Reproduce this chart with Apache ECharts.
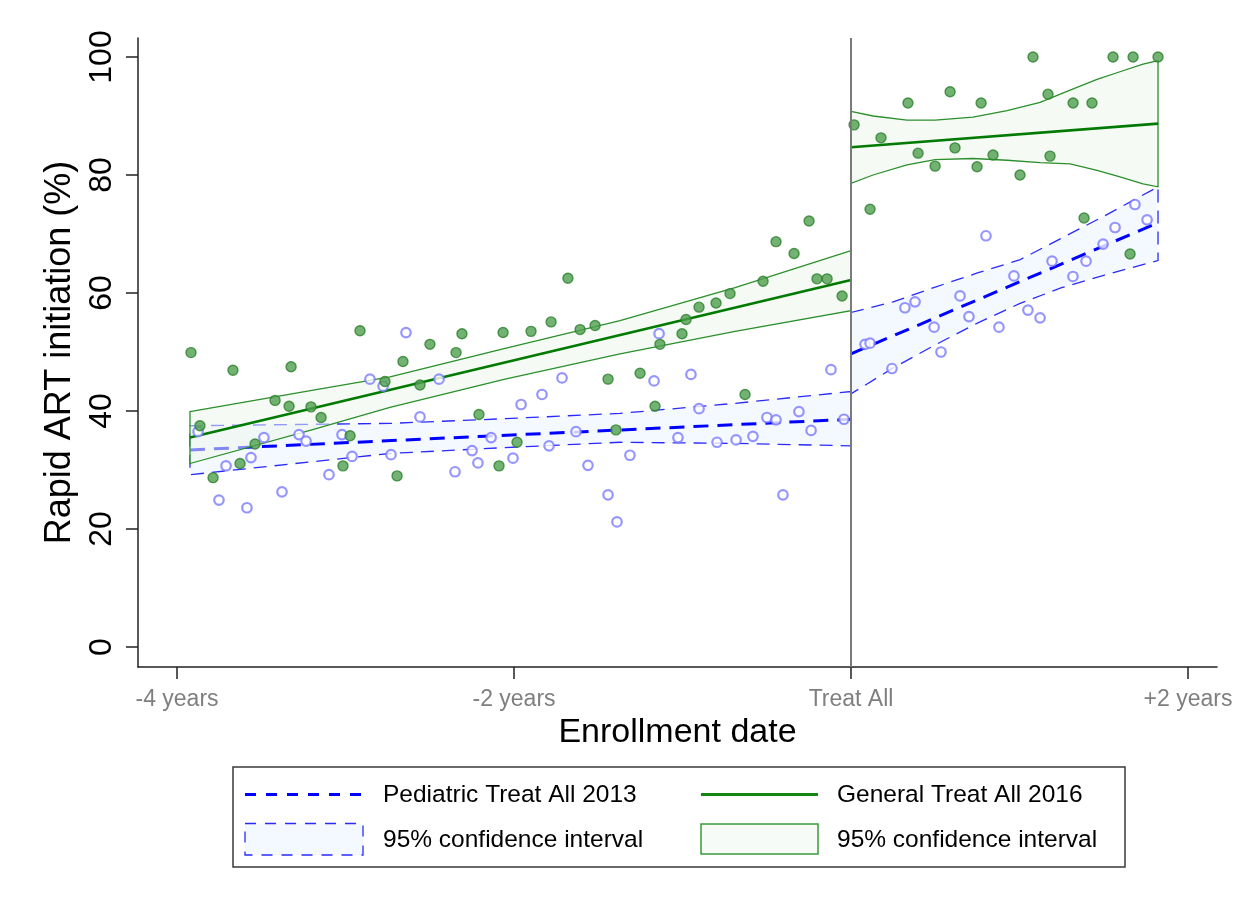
<!DOCTYPE html>
<html><head><meta charset="utf-8">
<script src="https://cdn.jsdelivr.net/npm/echarts@6/dist/echarts.min.js"></script>
<style>html,body{margin:0;padding:0;background:#fff}#c{width:1252px;height:910px}</style>
</head><body><div id="c"></div>
<script>
// ---- axis ticks ----
const xTickValues = [-4, -2, 0, 2];
const xTickLabels = ['-4 years', '-2 years', 'Treat All', '+2 years'];
const yTickValues = [0, 20, 40, 60, 80, 100];

// ---- Pediatric Treat All 2013 (blue, hollow) : x in years relative to Treat All ----
const bluePreX = [-3.875,-3.751,-3.709,-3.585,-3.561,-3.484,-3.377,-3.276,-3.234,-3.098,-3.021,-2.961,-2.855,-2.777,-2.730,-2.641,-2.558,-2.445,-2.350,-2.249,-2.214,-2.136,-2.006,-1.958,-1.834,-1.792,-1.715,-1.632,-1.561,-1.442,-1.389,-1.312,-1.169,-1.139,-1.027,-0.950,-0.902,-0.795,-0.682,-0.582,-0.499,-0.445,-0.404,-0.309,-0.237,-0.119,-0.042];
const bluePreY = [36.5,24.9,30.7,23.6,32.1,35.5,26.3,36.0,34.9,29.2,36.0,32.3,45.4,44.2,32.6,53.3,39.0,45.4,29.7,33.3,31.2,35.5,32.0,41.1,42.8,34.1,45.6,36.5,30.8,25.8,21.2,32.5,45.1,53.1,35.5,46.2,40.4,34.7,35.1,35.7,38.9,38.5,25.8,39.9,36.7,47.0,38.6];
const bluePostX = [0.083,0.113,0.243,0.320,0.380,0.493,0.534,0.647,0.700,0.801,0.878,0.967,1.050,1.122,1.193,1.317,1.395,1.496,1.567,1.685,1.757];
const bluePostY = [51.3,51.5,47.2,57.5,58.5,54.2,50.0,59.5,56.0,69.7,54.2,62.9,57.1,55.8,65.4,62.8,65.4,68.3,71.1,75.0,72.4];

// ---- General Treat All 2016 (green, filled) ----
const greenPreX = [-3.917,-3.864,-3.786,-3.668,-3.626,-3.537,-3.418,-3.335,-3.323,-3.205,-3.145,-3.015,-2.973,-2.914,-2.766,-2.694,-2.659,-2.558,-2.499,-2.344,-2.309,-2.208,-2.089,-2.065,-1.982,-1.899,-1.780,-1.680,-1.608,-1.519,-1.442,-1.395,-1.252,-1.163,-1.134,-1.003,-0.979,-0.902,-0.801,-0.718,-0.629,-0.522,-0.445,-0.338,-0.249,-0.202,-0.142,-0.053];
const greenPreY = [49.9,37.5,28.7,46.9,31.1,34.4,41.8,40.8,47.5,40.7,38.9,30.7,35.8,53.6,45.0,29.0,48.4,44.4,51.3,49.9,53.1,39.4,30.7,53.3,34.7,53.5,55.1,62.5,53.8,54.5,45.4,36.8,46.4,40.8,51.3,53.1,55.5,57.6,58.3,59.9,42.8,62.0,68.7,66.7,72.2,62.4,62.4,59.5];
const greenPostX = [0.018,0.113,0.178,0.338,0.398,0.499,0.588,0.617,0.748,0.772,0.843,1.003,1.080,1.169,1.181,1.318,1.383,1.430,1.555,1.656,1.674,1.822];
const greenPostY = [88.5,74.2,86.3,92.2,83.7,81.5,94.1,84.6,81.4,92.2,83.4,80.0,100,93.7,83.2,92.2,72.7,92.2,100,66.6,100,100];

// ---- fitted lines ----
const bluePreFitX = [-3.923, 0];   const bluePreFitY = [33.4, 38.6];
const bluePostFitX = [0, 1.822];   const bluePostFitY = [49.7, 71.9];
const greenPreFitX = [-3.923, 0];  const greenPreFitY = [35.5, 62.2];
const greenPostFitX = [0, 1.822];  const greenPostFitY = [84.7, 88.7];

// ---- 95% confidence intervals ----
const bluePreCiX = [-3.923,-2.736,-2.053,-1.371,-0.688,0];
const bluePreCiHi = [37.5,37.9,38.7,39.6,41.3,43.3];
const bluePreCiLo = [29.2,32.8,33.8,34.7,34.5,34.1];
const bluePostCiX = [0,0.25,0.5,0.75,1.0,1.25,1.5,1.822];
const bluePostCiHi = [56.7,58.5,61.0,63.4,65.6,69.3,73.0,78.0];
const bluePostCiLo = [42.9,47.3,51.2,54.9,58.2,60.9,63.0,65.5];
const greenPreCiX = [-3.923,-3.2,-2.736,-2.053,-1.371,-0.688,0];
const greenPreCiHi = [39.9,43.5,45.8,50.6,55.3,60.9,67.2];
const greenPreCiLo = [31.1,36.8,40.6,45.4,49.7,53.5,57.0];
const greenPostCiX = [0,0.131,0.332,0.499,0.724,0.926,1.122,1.300,1.460,1.596,1.733,1.822];
const greenPostCiHi = [90.8,90.0,89.3,89.3,89.8,90.9,92.3,94.4,96.2,97.5,98.8,99.4];
const greenPostCiLo = [78.6,80.0,81.7,82.6,82.8,82.5,82.1,81.9,80.8,79.7,78.5,78.0];

// ---- legend texts ----
const legendLabels = ['Pediatric Treat All 2013', '95% confidence interval', 'General Treat All 2016', '95% confidence interval'];

const F = "'Liberation Sans', Arial, Helvetica, sans-serif";
const zip = (xs, ys) => xs.map((x, i) => [x, ys[i]]);

function band(xs, lo, hi, style, z) {
  return {
    type: 'custom', silent: true, z: z,
    data: [[xs[0], lo[0]]],
    renderItem: function (params, api) {
      const pts = [];
      for (let i = 0; i < xs.length; i++) pts.push(api.coord([xs[i], hi[i]]));
      for (let i = xs.length - 1; i >= 0; i--) pts.push(api.coord([xs[i], lo[i]]));
      return { type: 'polygon', shape: { points: pts }, style: style };
    }
  };
}
function fit(xs, ys, ls, z) {
  return { type: 'line', data: zip(xs, ys), symbol: 'none', silent: true, z: z, lineStyle: ls };
}

const blueBandStyle = { fill: '#f4f8ff', stroke: '#2a2aff', lineWidth: 1.3, lineDash: [13, 8] };
const greenBandStyle = { fill: 'rgba(236,246,236,0.55)', stroke: '#2b8f2b', lineWidth: 1.3 };
const blueFit = { color: '#0000ff', width: 3, type: [15, 9] };
const greenFit = { color: '#007a00', width: 2.6, type: 'solid' };

const blueDot = { type: 'scatter', symbol: 'circle', symbolSize: 9.5, z: 10, silent: true,
  itemStyle: { color: '#ffffff', borderColor: '#7b7bff', borderWidth: 2.2 } };
const greenDot = { type: 'scatter', symbol: 'circle', symbolSize: 10, z: 11, silent: true,
  itemStyle: { color: '#4f9f4f', borderColor: '#2c7f2c', borderWidth: 1.4 } };

const txt = (x, y, s) => ({ type: 'text', x: x, y: y, z: 100,
  style: { text: s, fontSize: 24.5, fontFamily: F, fill: '#000', verticalAlign: 'middle', align: 'left' } });

const chart = echarts.init(document.getElementById('c'));
chart.setOption({
  backgroundColor: '#ffffff',
  animation: false,
  grid: { left: 138, right: 35, top: 38, bottom: 243, containLabel: false },
  xAxis: {
    type: 'value', min: -4.2315, max: 2.172,
    splitLine: { show: false },
    axisLine: { show: true, onZero: false, lineStyle: { color: '#222', width: 1.5 } },
    axisTick: { show: true, length: 12, customValues: xTickValues, lineStyle: { color: '#222', width: 1.5 } },
    axisLabel: { customValues: xTickValues, fontSize: 23, color: '#7f7f7f', fontFamily: F, margin: 21,
      formatter: v => xTickLabels[xTickValues.indexOf(v)] },
    name: 'Enrollment date', nameLocation: 'middle', nameGap: 46,
    nameTextStyle: { fontSize: 34, color: '#000', fontFamily: F }
  },
  yAxis: {
    type: 'value', min: -3.39, max: 103.22,
    splitLine: { show: false },
    axisLine: { show: true, onZero: false, lineStyle: { color: '#222', width: 1.5 } },
    axisTick: { show: true, length: 12, customValues: yTickValues, lineStyle: { color: '#222', width: 1.5 } },
    axisLabel: { customValues: yTickValues, rotate: 90, fontSize: 32, color: '#000', fontFamily: F, margin: 20 },
    name: 'Rapid ART initiation (%)', nameLocation: 'middle', nameGap: 47, nameRotate: 90,
    nameTextStyle: { fontSize: 36, color: '#000', fontFamily: F }
  },
  series: [
    band(bluePreCiX, bluePreCiLo, bluePreCiHi, blueBandStyle, 2),
    band(bluePostCiX, bluePostCiLo, bluePostCiHi, blueBandStyle, 2),
    fit(bluePreFitX, bluePreFitY, blueFit, 3),
    fit(bluePostFitX, bluePostFitY, blueFit, 3),
    band(greenPreCiX, greenPreCiLo, greenPreCiHi, greenBandStyle, 4),
    band(greenPostCiX, greenPostCiLo, greenPostCiHi, greenBandStyle, 4),
    fit(greenPreFitX, greenPreFitY, greenFit, 5),
    fit(greenPostFitX, greenPostFitY, greenFit, 5),
    Object.assign({ data: zip(bluePreX, bluePreY).concat(zip(bluePostX, bluePostY)) }, blueDot),
    Object.assign({ data: zip(greenPreX, greenPreY).concat(zip(greenPostX, greenPostY)),
      markLine: { silent: true, symbol: 'none', label: { show: false }, z: 20,
        lineStyle: { color: '#7a7a7a', width: 2, type: 'solid' },
        data: [{ xAxis: xTickValues[2] }] } }, greenDot)
  ],
  graphic: [
    { type: 'rect', z: 100, shape: { x: 233, y: 767, width: 892, height: 100 },
      style: { fill: '#fff', stroke: '#3a3a3a', lineWidth: 1.5 } },
    { type: 'line', z: 100, shape: { x1: 245, y1: 794.5, x2: 363, y2: 794.5 },
      style: { stroke: '#0000ff', lineWidth: 3, lineDash: [11, 10] } },
    txt(383, 795, legendLabels[0]),
    { type: 'rect', z: 100, shape: { x: 245, y: 823.5, width: 118, height: 31.5 },
      style: { fill: '#f4f8ff', stroke: '#2a2aff', lineWidth: 1.3, lineDash: [11, 9] } },
    txt(383, 840, legendLabels[1]),
    { type: 'line', z: 100, shape: { x1: 701, y1: 794.5, x2: 818, y2: 794.5 },
      style: { stroke: '#118811', lineWidth: 3 } },
    txt(837, 795, legendLabels[2]),
    { type: 'rect', z: 100, shape: { x: 701, y: 824, width: 117, height: 30 },
      style: { fill: '#f7fbf7', stroke: '#3a9a3a', lineWidth: 1.5 } },
    txt(837, 840, legendLabels[3])
  ]
});
</script></body></html>
